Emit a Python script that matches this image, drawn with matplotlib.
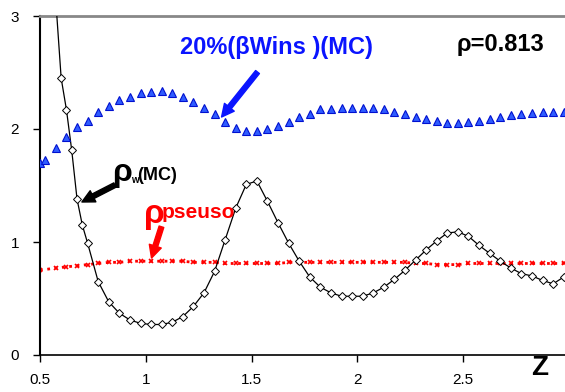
import matplotlib
matplotlib.use('Agg')
import matplotlib.pyplot as plt
import numpy as np

plt.rcParams['font.family'] = ['Liberation Sans', 'DejaVu Sans']

# blue triangles: 20% (beta Wins)(MC)
z_wins = [0.5, 0.525, 0.575, 0.625, 0.675, 0.725, 0.775, 0.825, 0.875, 0.925,
          0.975, 1.025, 1.075, 1.125, 1.175, 1.225, 1.275, 1.325, 1.375, 1.425,
          1.475, 1.525, 1.575, 1.625, 1.675, 1.725, 1.775, 1.825, 1.875, 1.925,
          1.975, 2.025, 2.075, 2.125, 2.175, 2.225, 2.275, 2.325, 2.375, 2.425,
          2.475, 2.525, 2.575, 2.625, 2.675, 2.725, 2.775, 2.825, 2.875, 2.925,
          2.975]
wins = [1.70, 1.73, 1.83, 1.93, 2.02, 2.07, 2.15, 2.20, 2.26, 2.28,
        2.32, 2.33, 2.34, 2.32, 2.28, 2.24, 2.19, 2.13, 2.06, 2.01,
        1.98, 1.98, 2.00, 2.03, 2.06, 2.11, 2.13, 2.18, 2.18, 2.19,
        2.19, 2.19, 2.19, 2.18, 2.15, 2.13, 2.11, 2.09, 2.07, 2.05,
        2.05, 2.06, 2.07, 2.09, 2.11, 2.12, 2.13, 2.14, 2.15, 2.15,
        2.15]

# black diamonds: rho_w (MC)
z_rho = [0.55, 0.60, 0.625, 0.65, 0.675, 0.70, 0.725, 0.775, 0.825, 0.875,
         0.925, 0.975, 1.025, 1.075, 1.125, 1.175, 1.225, 1.275, 1.325, 1.375,
         1.425, 1.475, 1.525, 1.575, 1.625, 1.675, 1.725, 1.775, 1.825, 1.875,
         1.925, 1.975, 2.025, 2.075, 2.125, 2.175, 2.225, 2.275, 2.325, 2.375,
         2.425, 2.475, 2.525, 2.575, 2.625, 2.675, 2.725, 2.775, 2.825, 2.875,
         2.925, 2.975]
rho_w = [3.80, 2.45, 2.17, 1.81, 1.38, 1.15, 0.99, 0.65, 0.47, 0.37,
         0.31, 0.28, 0.27, 0.27, 0.29, 0.34, 0.43, 0.55, 0.74, 1.02,
         1.30, 1.51, 1.54, 1.36, 1.17, 0.99, 0.83, 0.69, 0.60, 0.55,
         0.52, 0.52, 0.52, 0.55, 0.60, 0.67, 0.75, 0.84, 0.93, 1.01,
         1.08, 1.09, 1.05, 0.97, 0.90, 0.83, 0.77, 0.72, 0.70, 0.66,
         0.63, 0.69]

# red crosses: rho pseudo
z_pseudo = [0.5, 0.575, 0.625, 0.675, 0.725, 0.775, 0.825, 0.875, 0.925, 0.975,
            1.025, 1.075, 1.125, 1.175, 1.225, 1.275, 1.325, 1.375, 1.425, 1.475,
            1.525, 1.575, 1.625, 1.675, 1.725, 1.775, 1.825, 1.875, 1.925, 1.975,
            2.025, 2.075, 2.125, 2.175, 2.225, 2.275, 2.325, 2.375, 2.425, 2.475,
            2.525, 2.575, 2.625, 2.675, 2.725, 2.775, 2.825, 2.875, 2.925, 2.975]
rho_pseudo = [0.75, 0.77, 0.78, 0.79, 0.80, 0.81, 0.82, 0.82, 0.83, 0.83,
              0.83, 0.83, 0.83, 0.83, 0.82, 0.82, 0.82, 0.81, 0.81, 0.81,
              0.81, 0.81, 0.81, 0.82, 0.82, 0.82, 0.82, 0.82, 0.82, 0.82,
              0.82, 0.82, 0.82, 0.82, 0.82, 0.81, 0.81, 0.80, 0.80, 0.80,
              0.81, 0.81, 0.81, 0.81, 0.81, 0.81, 0.81, 0.81, 0.81, 0.81]

x_ticks = [0.5, 1, 1.5, 2, 2.5, 3]
x_labels = ['0.5', '1', '1.5', '2', '2.5', '3']
y_ticks = [0, 1, 2, 3]

fig = plt.figure(figsize=(5.65, 3.92), dpi=100)
ax = fig.add_axes([40 / 565, 37 / 392, 529 / 565, 339 / 392])

ax.plot(z_rho, rho_w, color='black', lw=0.9, marker='D', ms=4,
        mfc='white', mec='black', mew=0.7, zorder=3)
ax.plot(z_pseudo, rho_pseudo, color='red', lw=2, ls=':', marker='x',
        ms=3.5, mew=1.2, zorder=2)
ax.plot(z_wins, wins, ls='none', marker='^', ms=5.5, mfc='#2f5cff',
        mec='#0010d0', mew=0.8, zorder=4)

ax.set_xlim(0.5, 3)
ax.set_ylim(0, 3)
ax.set_xticks(x_ticks)
ax.set_xticklabels(x_labels)
ax.set_yticks(y_ticks)
ax.tick_params(direction='out', length=5, width=1, labelsize=11)
ax.tick_params(axis='x', pad=8)
ax.tick_params(axis='y', pad=10)

ax.spines['right'].set_visible(False)
ax.spines['top'].set_color('#888888')
ax.spines['top'].set_linewidth(2)
ax.spines['left'].set_linewidth(1.5)
ax.spines['bottom'].set_linewidth(1.2)

# labels
ax.text(1.618, 2.72, '20%(βWins )(MC)', color='#0a14ff', fontsize=17,
        fontweight='bold', ha='center', va='center')
ax.text(2.47, 2.75, 'ρ=0.813', color='black', fontsize=17,
        fontweight='bold', ha='left', va='center')
ax.text(0.84, 1.61, 'ρ', color='black', fontsize=23, fontweight='bold',
        ha='left', va='center')
ax.text(0.93, 1.55, 'w', color='black', fontsize=7, fontweight='bold',
        ha='left', va='center')
ax.text(0.96, 1.59, '(MC)', color='black', fontsize=13, fontweight='bold',
        ha='left', va='center')
ax.text(0.99, 1.24, 'ρ', color='red', fontsize=24, fontweight='bold',
        ha='left', va='center')
ax.text(1.075, 1.26, 'pseuso', color='red', fontsize=15, fontweight='bold',
        ha='left', va='center')
ax.text(2.863, -0.115, 'Z', color='black', fontsize=20, fontweight='bold',
        ha='center', va='center', clip_on=False)

# arrows
ax.annotate('', xy=(1.358, 2.106), xytext=(1.528, 2.504),
            arrowprops=dict(facecolor='#0a14ff', edgecolor='#0a14ff',
                            width=3.5, headwidth=9, headlength=9, shrink=0))
ax.annotate('', xy=(0.698, 1.354), xytext=(0.854, 1.504),
            arrowprops=dict(facecolor='black', edgecolor='black',
                            width=3.5, headwidth=9, headlength=9, shrink=0))
ax.annotate('', xy=(1.027, 0.858), xytext=(1.074, 1.135),
            arrowprops=dict(facecolor='red', edgecolor='red',
                            width=3.5, headwidth=9, headlength=9, shrink=0))

fig.savefig('out.png', dpi=100)
